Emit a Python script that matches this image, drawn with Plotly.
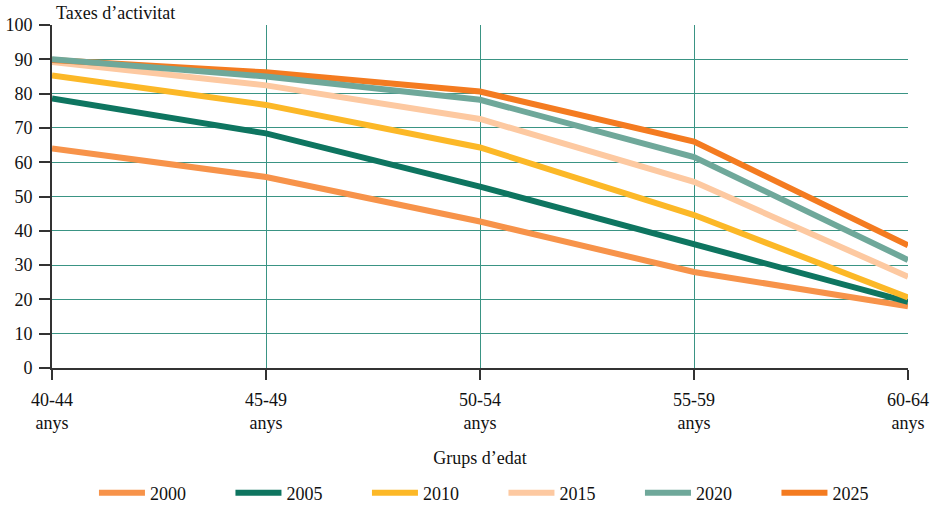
import plotly.graph_objects as go

categories = ["40-44<br>anys", "45-49<br>anys", "50-54<br>anys", "55-59<br>anys", "60-64<br>anys"]
years = ["2000", "2005", "2010", "2015", "2020", "2025"]
v2000 = [64.0, 55.7, 42.7, 28.0, 18.0]
v2005 = [78.6, 68.4, 52.9, 36.3, 19.3]
v2010 = [85.3, 76.7, 64.3, 44.6, 20.6]
v2015 = [89.2, 82.4, 72.6, 54.3, 26.6]
v2020 = [90.0, 85.0, 78.2, 61.5, 31.5]
v2025 = [89.8, 86.2, 80.6, 66.0, 35.8]
series = {"2000": v2000, "2005": v2005, "2010": v2010, "2015": v2015, "2020": v2020, "2025": v2025}
colors = {"2000": "#f7934a", "2005": "#0e7560", "2010": "#fcb827",
          "2015": "#fdc9a1", "2020": "#6fa89a", "2025": "#f47b20"}
draw_order = ["2000", "2005", "2010", "2015", "2025", "2020"]

fig = go.Figure()
xs = list(range(len(categories)))
for y in draw_order:
    fig.add_trace(go.Scatter(
        x=xs, y=series[y], mode="lines", name=y,
        line=dict(color=colors[y], width=6),
        legendrank=years.index(y) + 1,
    ))

font = "Liberation Serif"
fig.update_layout(
    width=934, height=505,
    margin=dict(l=52, r=26, t=25, b=137),
    plot_bgcolor="white", paper_bgcolor="white",
    font=dict(family=font, size=18, color="#111"),
    showlegend=True,
    legend=dict(orientation="h", xref="container", yref="container",
                x=0.1006, y=0.0238, xanchor="left", yanchor="middle",
                entrywidth=75.5, entrywidthmode="pixels", font=dict(family=font, size=18),
                itemwidth=46, tracegroupgap=0),
    xaxis=dict(
        range=[0, 4], tickmode="array", tickvals=xs, ticktext=categories,
        tickfont=dict(family=font, size=18),
        showgrid=True, gridcolor="#3a9484", gridwidth=1,
        showline=True, linecolor="#333", linewidth=2,
        ticks="outside", ticklen=10, tickcolor="#333", tickwidth=1.5,
        ticklabelstandoff=4,
        zeroline=False, automargin=False,
        title=dict(text="Grups d\u2019edat", font=dict(family=font, size=18), standoff=19),
    ),
    yaxis=dict(
        range=[0, 100], tickmode="array", tickvals=list(range(0, 101, 10)),
        tickfont=dict(family=font, size=18),
        showgrid=True, gridcolor="#3a9484", gridwidth=1,
        showline=True, linecolor="#333", linewidth=2,
        ticks="outside", ticklen=11, tickcolor="#333", tickwidth=1.5,
        ticklabelstandoff=3,
        zeroline=False, automargin=False,
    ),
    annotations=[dict(text="Taxes d\u2019activitat", xref="paper", yref="paper",
                      x=0, y=1.0, xanchor="left", yanchor="bottom", xshift=2,
                      showarrow=False, font=dict(family=font, size=18))],
)
fig.write_html("out.html", config={"displayModeBar": False},
               post_script="document.body.style.margin='0';")
